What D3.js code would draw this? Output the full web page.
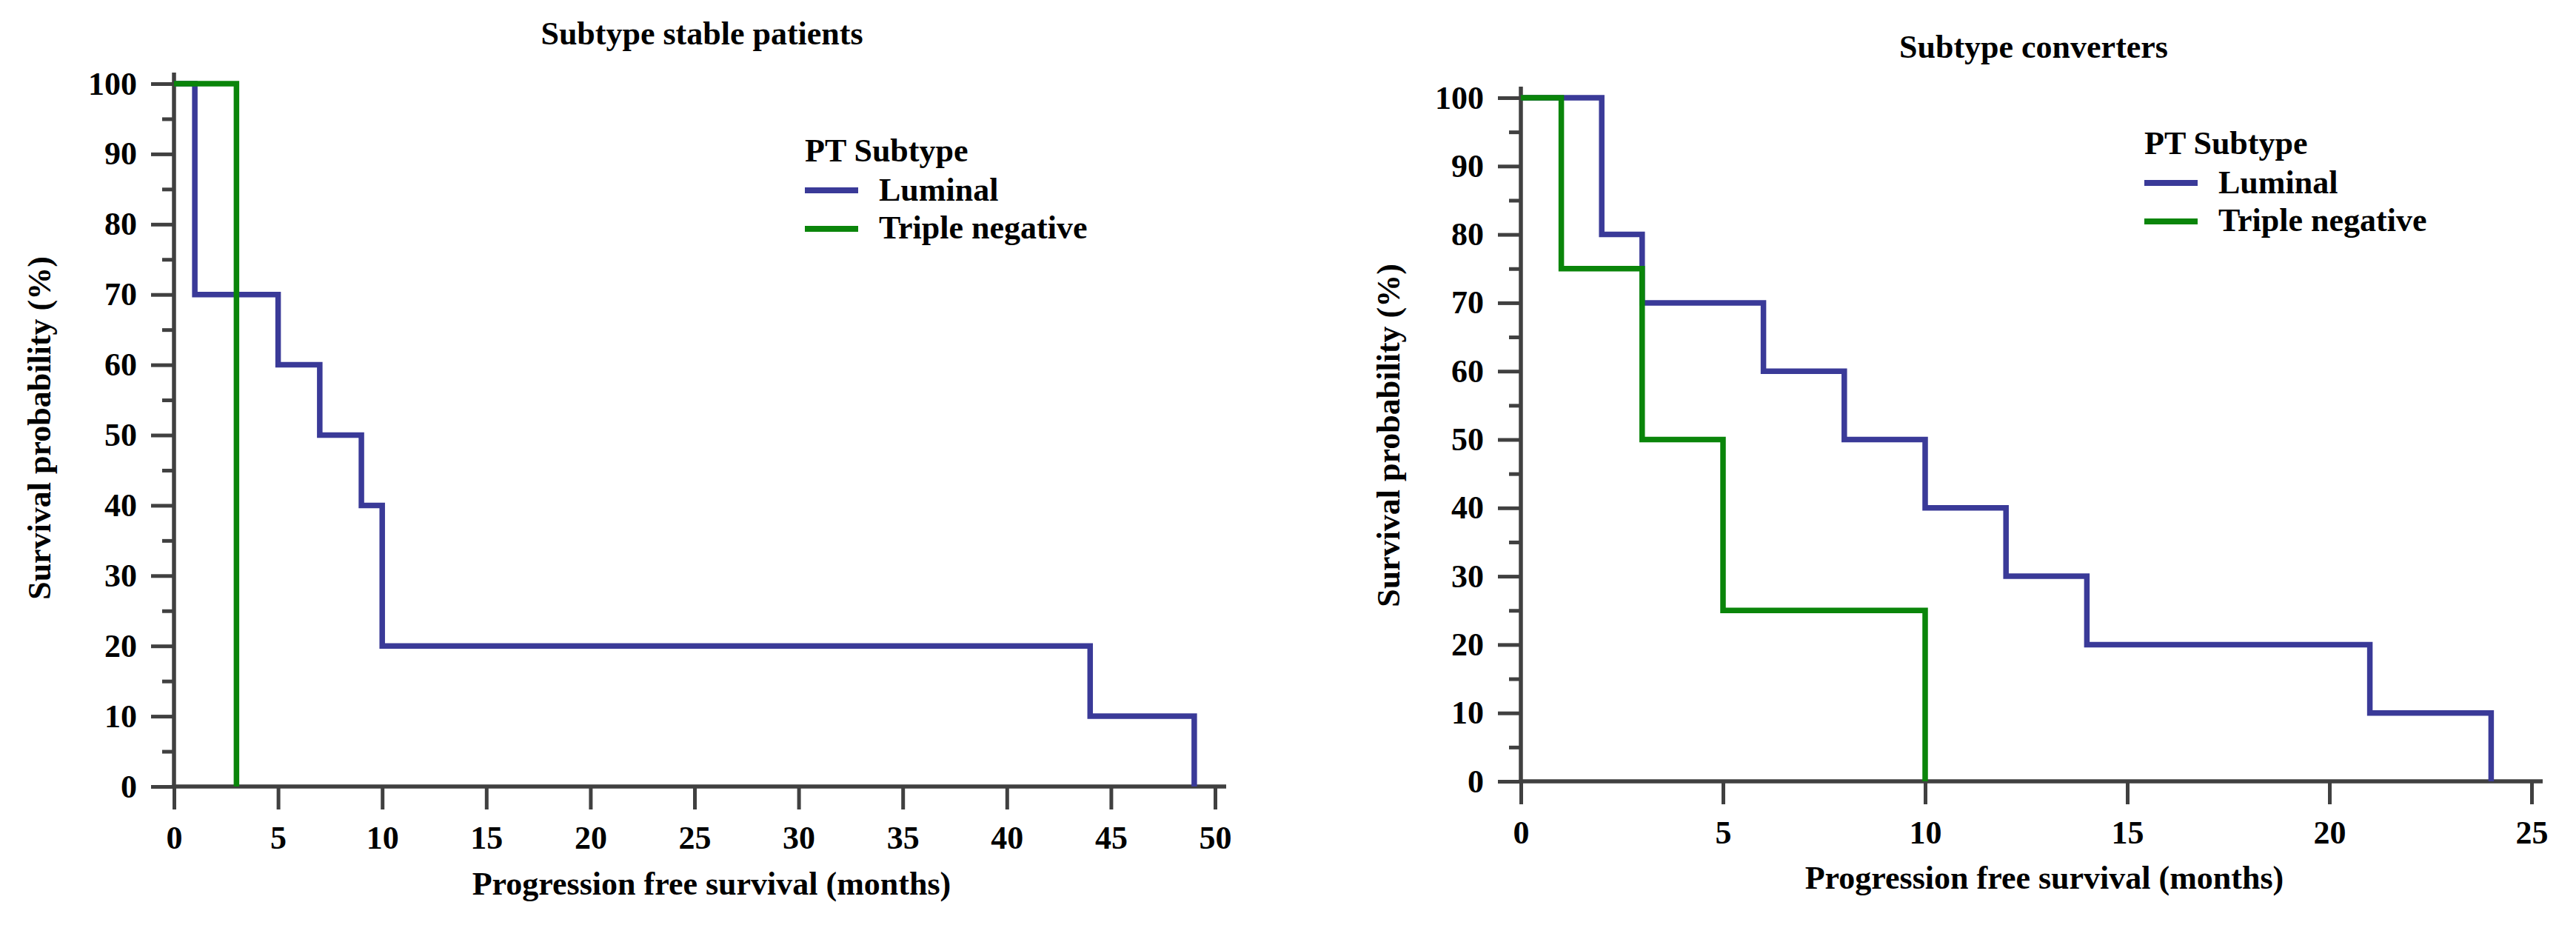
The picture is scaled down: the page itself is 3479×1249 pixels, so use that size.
<!doctype html>
<html lang="en">
  <head>
    <meta charset="utf-8">
    <title>Progression free survival by PT subtype</title>
    <style>
      body { margin: 0; background: #fff; }
      text { font-family: "Liberation Serif", "Times New Roman", serif; font-weight: bold; fill: #000; }
    </style>
  </head>
  <body>
    <div id="chart"></div>

  <script src="https://d3js.org/d3.v7.min.js"></script>
  <script>

  // data
  var seriesNames = ["Luminal", "Triple negative"];
  var legendTitle = "PT Subtype";

  var stableLuminalMonths = [0, 1, 5, 7, 9, 10, 44, 49];
  var stableLuminalSurv   = [100, 70, 60, 50, 40, 20, 10, 0];
  var stableTripleMonths  = [0, 3];
  var stableTripleSurv    = [100, 0];

  var convLuminalMonths = [0, 2, 3, 6, 8, 10, 12, 14, 21, 24];
  var convLuminalSurv   = [100, 80, 70, 60, 50, 40, 30, 20, 10, 0];
  var convTripleMonths  = [0, 1, 3, 5, 10];
  var convTripleSurv    = [100, 75, 50, 25, 0];

  var yTicks      = [0, 10, 20, 30, 40, 50, 60, 70, 80, 90, 100];
  var yMinorTicks = [5, 15, 25, 35, 45, 55, 65, 75, 85, 95];
  var stableXTicks = [0, 5, 10, 15, 20, 25, 30, 35, 40, 45, 50];
  var convXTicks   = [0, 5, 10, 15, 20, 25];

  var w = 3479, h = 1249;
  var colors = ["#3a3a98", "#0a850a"];
  var axisColor = "#404040";

  var svg = d3.select("#chart")
      .append("svg")
      .attr("width", w)
      .attr("height", h);

  function pairs(months, surv) {
    return months.map(function(m, i) { return [m, surv[i]]; });
  }

  var panels = [
    { title: "Subtype stable patients", left: 235, right: 1641, top: 113, bottom: 1062,
      xMax: 50, xTicks: stableXTicks, titleY: 60, xTitleX: 961, xTitleY: 1208,
      yTitleX: 68, yTitleY: 578, legX: 1087, legY: 218,
      series: [pairs(stableLuminalMonths, stableLuminalSurv), pairs(stableTripleMonths, stableTripleSurv)] },
    { title: "Subtype converters", left: 2054, right: 3419, top: 132, bottom: 1055,
      xMax: 25, xTicks: convXTicks, titleY: 78, xTitleX: 2761, xTitleY: 1200,
      yTitleX: 1890, yTitleY: 588, legX: 2896, legY: 208,
      series: [pairs(convLuminalMonths, convLuminalSurv), pairs(convTripleMonths, convTripleSurv)] }
  ];

  panels.forEach(function(p) {
    var x = d3.scaleLinear().domain([0, p.xMax]).range([p.left, p.right]);
    var y = d3.scaleLinear().domain([0, 100]).range([p.bottom, p.top]);
    var g = svg.append("g");

    // axes
    var yAxis = g.append("g")
        .attr("transform", "translate(" + x(0) + ",0)")
        .call(d3.axisLeft(y).tickValues(yTicks).tickSize(31).tickPadding(19));
    var yMinor = g.append("g")
        .attr("transform", "translate(" + x(0) + ",0)")
        .call(d3.axisLeft(y).tickValues(yMinorTicks).tickSize(16).tickFormat(""));
    var xAxis = g.append("g")
        .attr("transform", "translate(0," + y(0) + ")")
        .call(d3.axisBottom(x).tickValues(p.xTicks).tickSize(31).tickPadding(22));

    [yAxis, yMinor, xAxis].forEach(function(a) {
      a.select(".domain").remove();
      a.selectAll("line").attr("stroke", axisColor).attr("stroke-width", 5);
      a.selectAll("text").style("font-size", "44px")
          .attr("font-family", null).attr("fill", "#000");
    });

    g.append("line")
        .attr("x1", x(0)).attr("x2", x(0))
        .attr("y1", y(100) - 15).attr("y2", y(0) + 2.5)
        .attr("stroke", axisColor).attr("stroke-width", 5.5);
    g.append("line")
        .attr("x1", x(0) - 2.5).attr("x2", x(p.xMax) + 15)
        .attr("y1", y(0)).attr("y2", y(0))
        .attr("stroke", axisColor).attr("stroke-width", 5.5);

    // step curves
    var line = d3.line()
        .x(function(d) { return x(d[0]); })
        .y(function(d) { return y(d[1]); })
        .curve(d3.curveStepAfter);

    p.series.forEach(function(s, i) {
      g.append("path")
          .attr("d", line(s))
          .attr("fill", "none")
          .attr("stroke", colors[i])
          .attr("stroke-width", 7.5)
          .attr("stroke-linejoin", "miter");
    });

    // titles
    g.append("text")
        .attr("x", (p.left + p.right) / 2 + 10)
        .attr("y", p.titleY)
        .attr("text-anchor", "middle")
        .style("font-size", "44px")
        .text(p.title);
    g.append("text")
        .attr("x", p.xTitleX)
        .attr("y", p.xTitleY)
        .attr("text-anchor", "middle")
        .style("font-size", "44px")
        .text("Progression free survival (months)");
    g.append("text")
        .attr("transform", "translate(" + p.yTitleX + "," + p.yTitleY + ") rotate(-90)")
        .attr("text-anchor", "middle")
        .style("font-size", "44px")
        .text("Survival probability (%)");

    // legend
    var leg = g.append("g").attr("transform", "translate(" + p.legX + "," + p.legY + ")");
    leg.append("text")
        .attr("x", 0).attr("y", 0)
        .style("font-size", "44px")
        .text(legendTitle);
    seriesNames.forEach(function(name, i) {
      leg.append("line")
          .attr("x1", 0).attr("x2", 72)
          .attr("y1", 39 + i * 52).attr("y2", 39 + i * 52)
          .attr("stroke", colors[i])
          .attr("stroke-width", 8);
      leg.append("text")
          .attr("x", 100).attr("y", 53 + i * 51)
          .style("font-size", "44px")
          .text(name);
    });
  });

  </script>
  </body>
</html>
